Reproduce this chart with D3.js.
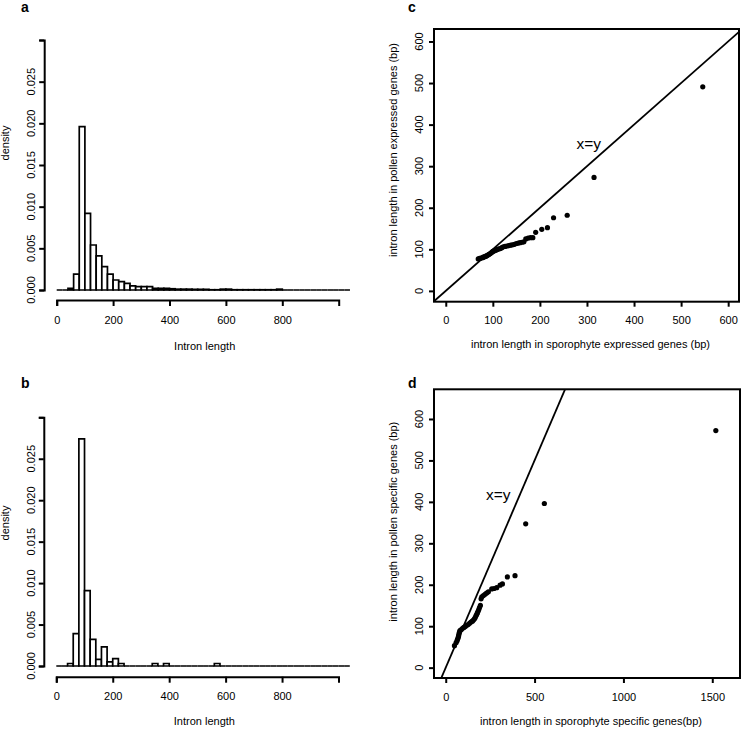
<!DOCTYPE html>
<html><head><meta charset="utf-8">
<script src="https://cdn.jsdelivr.net/npm/d3@7"></script>
<style>body{margin:0;background:#fff} text{font-family:"Liberation Sans",Arial,Helvetica,sans-serif;fill:#000}</style>
</head><body><svg id="chart" width="741" height="729"></svg>
<script>
// ---------- data ----------
const binWidth = 20;
// density per 20-bp bin, starting at 0 bp (panel a)
const densityA = [0,0,0.0002,0.0019,0.0196,0.0092,0.0054,0.0041,0.0028,0.0019,
  0.0012,0.0010,0.0008,0.0005,0.0004,0.0004,0.0004,0.0002,0.0002,0.0002,
  0.00015,0.0001,0.0001,0.0001,0.00008,0.00008,0.00008,0.00003,0.00003,0.0001,
  0.0001,0.00003,0.00003,0.00003,0.00003,0.00003,0.00003,0.00003,0.00003,0.0001,
  0,0,0,0,0,0,0,0,0,0,0,0];
// panel b
const densityB = [0,0,0.0003,0.0039,0.0274,0.0091,0.0032,0.0008,0.0023,0.0005,
  0.0009,0.0003,0,0,0,0,0,0.0003,0,0.0003,
  0,0,0,0,0,0,0,0,0.0003,0,
  0,0,0,0,0,0,0,0,0,0,
  0,0,0,0,0,0,0,0,0,0,0,0];
const histXTicks = [0,200,400,600,800];
const histYTicks = [0,0.005,0.010,0.015,0.020,0.025,0.030];
const histYLabels = ["0.000","0.005","0.010","0.015","0.020","0.025",""];

// panel c: quantiles, sporophyte expressed (x) vs pollen expressed (y)
const sporoC = [69,72,75,78,80,82,84,86,88,90,92,94,96,98,100,102,104,106,108,110,
  113,116,119,122,126,130,134,138,142,146,150,154,158,162,166,170,175,180,185,191,
  204,216,229,258,315,546];
const pollenC = [77,78,79,80,81,82,83,84,85,87,88,89,91,93,95,96,97,98,99,100,
  101,102,104,106,107,108,109,110,111,112,114,115,116,117,118,125,127,128,128,141,
  148,152,176,182,273,491];
// panel d: sporophyte specific (x) vs pollen specific (y)
const sporoD = [49,58,63,66,70,72,74,76,79,82,88,95,102,110,118,126,134,142,150,156,
  162,166,170,174,178,182,186,190,195,199,203,212,221,230,240,259,272,287,306,319,
  347,390,450,555,1520];
const pollenD = [53,60,64,68,72,76,80,84,88,90,92,95,97,99,102,104,107,110,112,115,
  118,121,125,128,132,136,140,145,150,166,171,174,177,180,183,190,191,193,199,202,
  219,222,347,396,572];
const qqCTicks = [0,100,200,300,400,500,600];
const qqDXTicks = [0,500,1000,1500];
const qqDYTicks = [0,100,200,300,400,500,600];

// ---------- drawing ----------
const svg = d3.select("#chart");
const FS = 11;

function histogram(dens, xr, yr, axisY, titleY, yTitleCenter, letter, letterY){
  const x = d3.scaleLinear().domain([0,1000]).range(xr);
  const y = d3.scaleLinear().domain([0,0.03]).range(yr);
  const g = svg.append("g");
  g.selectAll("path.bar").data(dens).join("path")
    .attr("class","bar")
    .attr("d",(d,i)=>{
      const x0=x(i*binWidth), x1=x((i+1)*binWidth), y0=y(0), y1=y(d);
      return `M${x0},${y0}L${x0},${y1}L${x1},${y1}L${x1},${y0}Z`;})
    .attr("fill","#fff").attr("stroke","#000").attr("stroke-width",1.7)
    .attr("stroke-linejoin","miter");
  const xa = g.append("g").attr("transform",`translate(0,${axisY})`)
    .call(d3.axisBottom(x).tickValues(histXTicks).tickFormat(d3.format("d")).tickSizeOuter(0).tickSize(6).tickPadding(10));
  const ya = g.append("g").attr("transform",`translate(${xr[0]-12.5},0)`)
    .call(d3.axisLeft(y).tickValues(histYTicks).tickSizeOuter(0).tickSize(5).tickFormat(""));
  [xa,ya].forEach(a=>{
    a.select(".domain").attr("stroke-width",2);
    a.selectAll(".tick line").attr("stroke-width",2);
    a.selectAll("text").attr("font-size",FS).style("font-family",null);
  });
  g.selectAll("text.ylab").data(histYTicks).join("text").attr("class","ylab")
    .attr("transform",d=>`translate(35,${y(d)}) rotate(-90)`)
    .attr("text-anchor","middle").attr("font-size",FS)
    .text((d,i)=>histYLabels[i]);
  g.append("text").attr("x",(x(0)+x(1000))/2 + 7).attr("y",titleY)
    .attr("text-anchor","middle").attr("font-size",FS).text("Intron length");
  g.append("text").attr("transform",`translate(8.5,${yTitleCenter}) rotate(-90)`)
    .attr("text-anchor","middle").attr("font-size",FS).text("density");
  g.append("text").attr("x",21).attr("y",letterY).attr("font-size",14)
    .attr("font-weight","bold").text(letter);
}

histogram(densityA,[56.7,338.7],[290,40],300,350,143,"a",12);
histogram(densityB,[56.3,338.5],[666,417.3],676.7,725,523,"b",388);

function qq(xs, ys, xDom, yDom, xr, yr, xTicks, yTicks, xTitle, yTitle, xTitleY, yTitleC, lab, letter, letterY, id){
  const x = d3.scaleLinear().domain(xDom).range(xr);
  const y = d3.scaleLinear().domain(yDom).range(yr);
  const g = svg.append("g");
  g.append("clipPath").attr("id",id).append("rect")
    .attr("x",xr[0]).attr("y",yr[1]).attr("width",xr[1]-xr[0]).attr("height",yr[0]-yr[1]);
  const lo = Math.min(xDom[0],yDom[0]), hi = Math.max(xDom[1],yDom[1]);
  g.append("line").attr("clip-path",`url(#${id})`)
    .attr("x1",x(lo)).attr("y1",y(lo)).attr("x2",x(hi)).attr("y2",y(hi))
    .attr("stroke","#000").attr("stroke-width",1.8);
  g.selectAll("circle").data(xs).join("circle")
    .attr("cx",d=>x(d)).attr("cy",(d,i)=>y(ys[i])).attr("r",2.6).attr("fill","#000");
  g.append("rect").attr("x",xr[0]).attr("y",yr[1]).attr("width",xr[1]-xr[0]).attr("height",yr[0]-yr[1])
    .attr("fill","none").attr("stroke","#000").attr("stroke-width",2);
  const xa = g.append("g").attr("transform",`translate(0,${yr[0]})`)
    .call(d3.axisBottom(x).tickValues(xTicks).tickFormat(d3.format("d")).tickSizeOuter(0).tickSize(5).tickPadding(10));
  const ya = g.append("g").attr("transform",`translate(${xr[0]},0)`)
    .call(d3.axisLeft(y).tickValues(yTicks).tickSizeOuter(0).tickSize(5).tickFormat(""));
  [xa,ya].forEach(a=>{
    a.select(".domain").remove();
    a.selectAll(".tick line").attr("stroke-width",2);
    a.selectAll("text").attr("font-size",FS).style("font-family",null);
  });
  g.selectAll("text.ylab").data(yTicks).join("text").attr("class","ylab")
    .attr("transform",d=>`translate(${xr[0]-11},${y(d)}) rotate(-90)`)
    .attr("text-anchor","middle").attr("font-size",FS).text(d=>d);
  g.append("text").attr("x",(xr[0]+xr[1])/2+4).attr("y",xTitleY)
    .attr("text-anchor","middle").attr("font-size",FS).text(xTitle);
  g.append("text").attr("transform",`translate(397,${yTitleC}) rotate(-90)`)
    .attr("text-anchor","middle").attr("font-size",FS).text(yTitle);
  g.append("text").attr("x",x(lab[0])).attr("y",y(lab[1])+5)
    .attr("text-anchor","middle").attr("font-size",15.5).text("x=y");
  g.append("text").attr("x",408).attr("y",letterY).attr("font-size",14)
    .attr("font-weight","bold").text(letter);
}

qq(sporoC, pollenC, [-25,623],[-26,630],[434,739],[301.7,29], qqCTicks, qqCTicks,
   "intron length in sporophyte expressed genes (bp)","intron length in pollen expressed genes (bp)",
   348,150,[304,353],"c",12,"clipc");
qq(sporoD, pollenD, [-66,1656],[-25,671.6],[434,740],[678,389.3], qqDXTicks, qqDYTicks,
   "intron length in sporophyte specific genes(bp)","intron length in pollen specific genes (bp)",
   724.5,521.7,[296,417],"d",388,"clipd");
</script></body></html>
